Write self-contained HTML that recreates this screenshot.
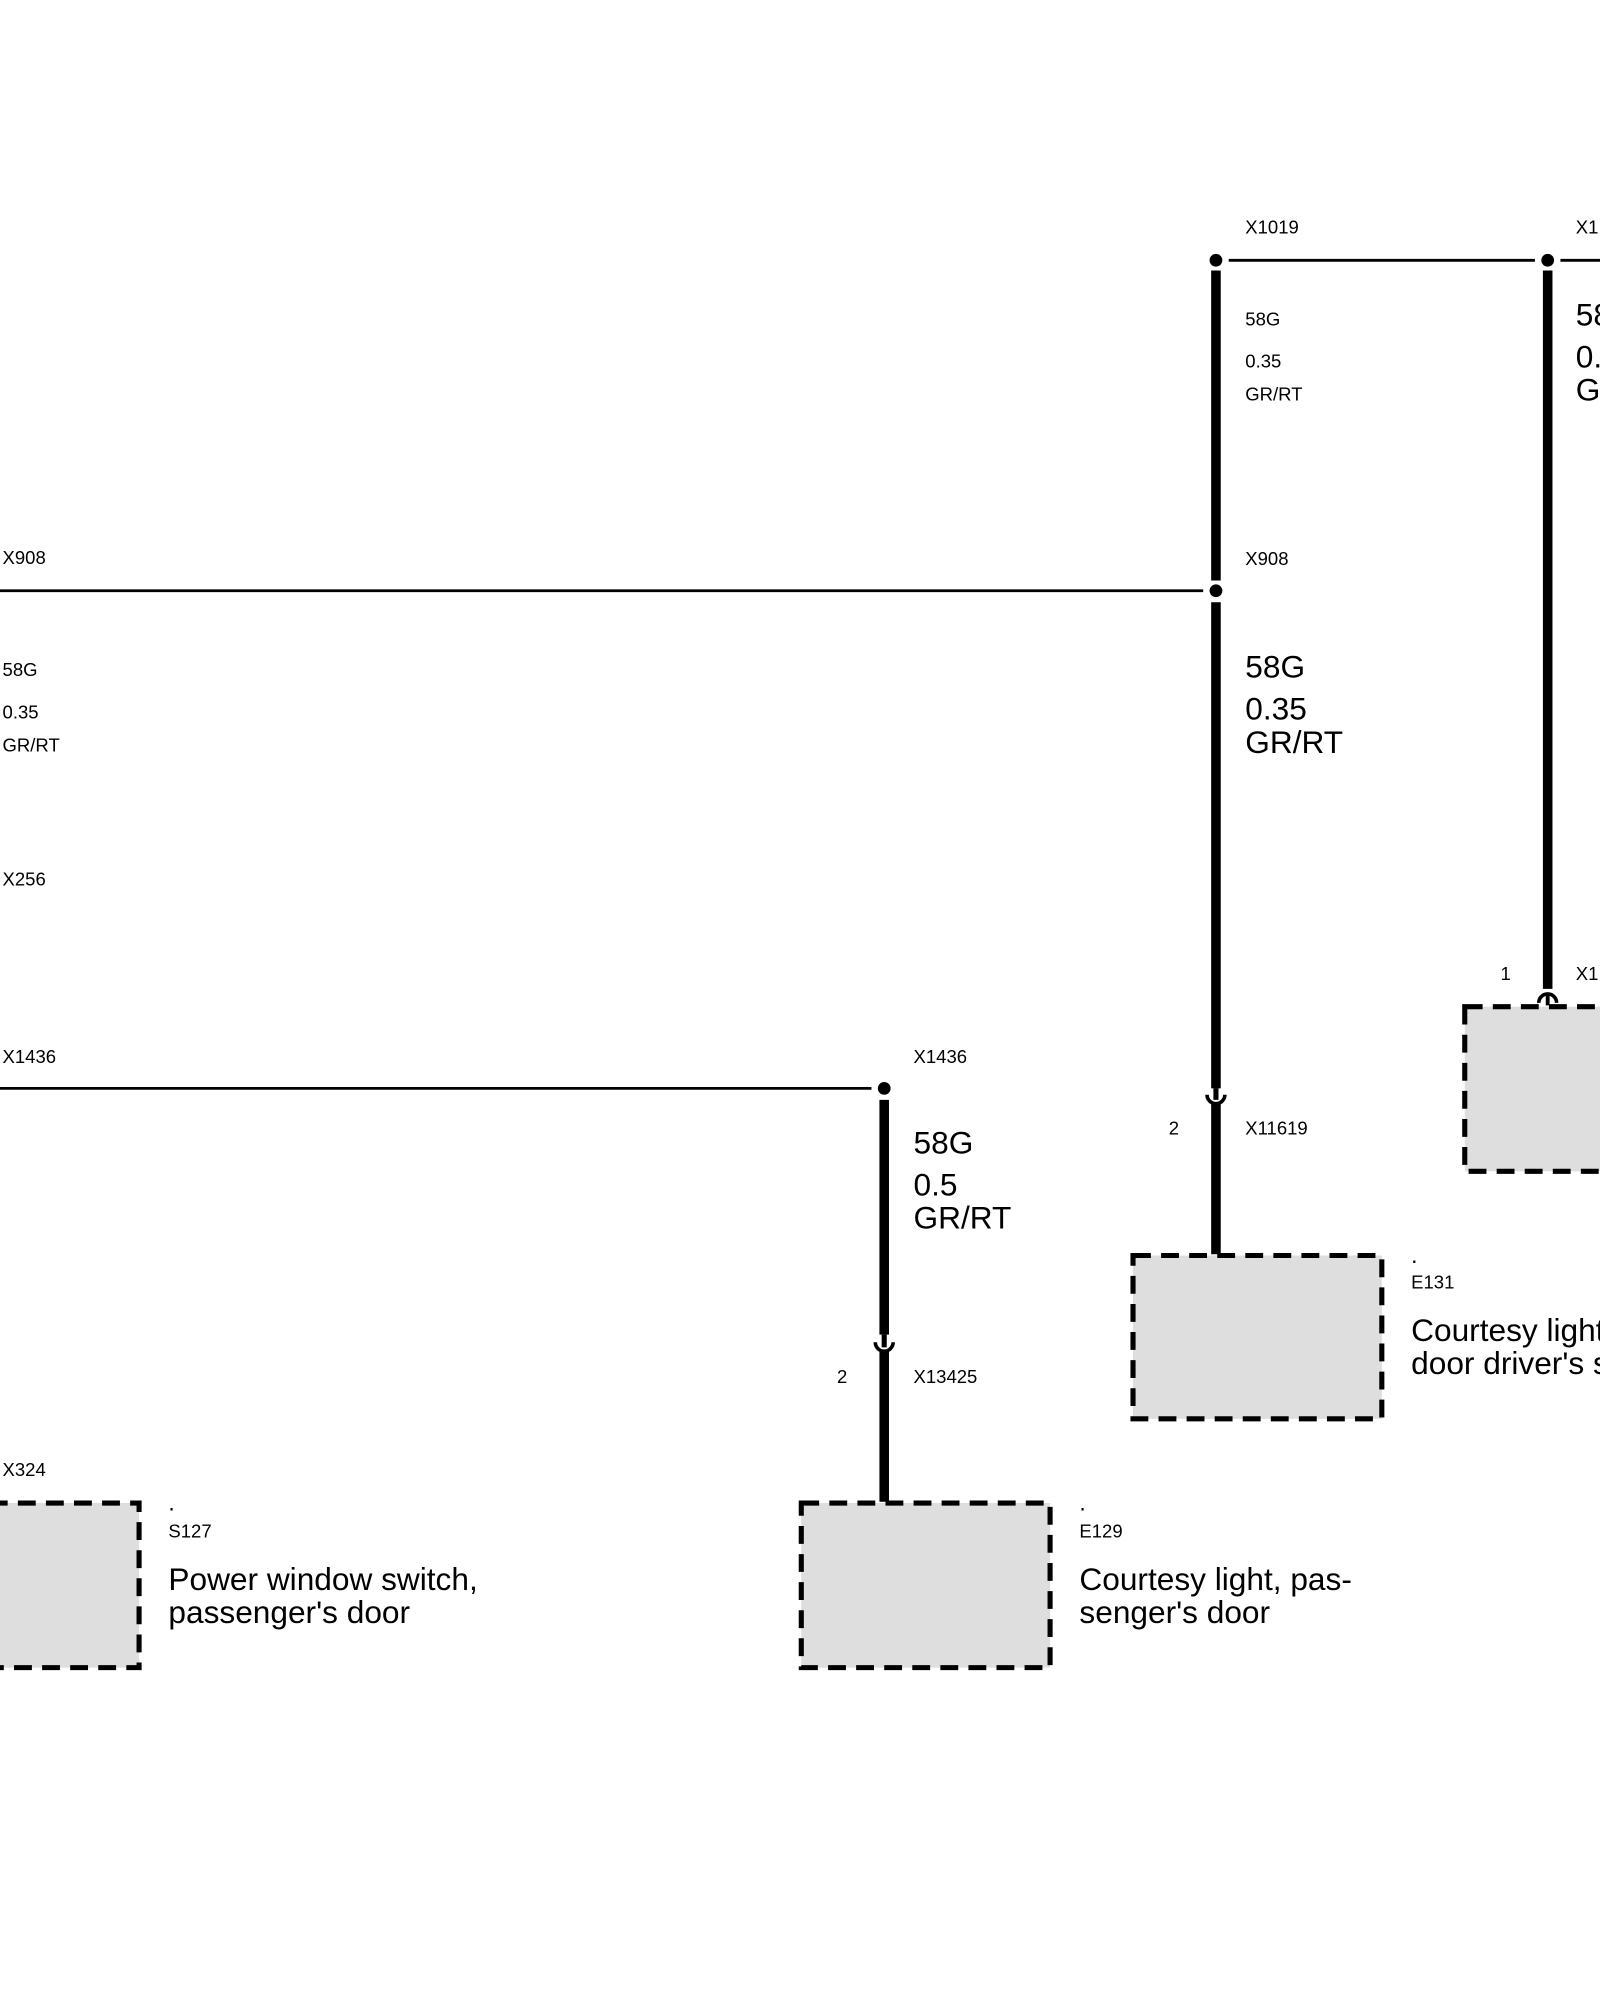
<!DOCTYPE html>
<html><head><meta charset="utf-8"><style>html,body{margin:0;padding:0;background:#fff}svg{display:block}</style></head><body>
<svg width="1600" height="2000" viewBox="0 0 1254 1567.5" xmlns="http://www.w3.org/2000/svg" font-family="Liberation Sans, sans-serif">
<rect width="1254" height="1567.5" fill="#fff"/>
<g stroke="#000" fill="none">
<line x1="963" y1="204" x2="1203" y2="204" stroke-width="2.2"/>
<line x1="1223" y1="204" x2="1254" y2="204" stroke-width="2.2"/>
<line x1="0" y1="463" x2="943" y2="463" stroke-width="2.2"/>
<line x1="0" y1="853" x2="683" y2="853" stroke-width="2.2"/>
<line x1="953" y1="212" x2="953" y2="455" stroke-width="7.5"/>
<line x1="953" y1="472" x2="953" y2="853" stroke-width="7.5"/>
<line x1="953" y1="853" x2="953" y2="862" stroke-width="4"/>
<path d="M946 858 A7 7 0 0 0 960 858" stroke-width="2.8"/>
<line x1="953" y1="865" x2="953" y2="983" stroke-width="7.5"/>
<line x1="1213" y1="212" x2="1213" y2="775" stroke-width="7.5"/>
<path d="M1206 786 A7 7 0 0 1 1220 786" stroke-width="2.8"/>
<line x1="1213" y1="779" x2="1213" y2="788" stroke-width="3"/>
<line x1="693" y1="862" x2="693" y2="1046" stroke-width="7.5"/>
<line x1="693" y1="1046" x2="693" y2="1056" stroke-width="4"/>
<path d="M686 1052 A7 7 0 0 0 700 1052" stroke-width="2.8"/>
<line x1="693" y1="1059" x2="693" y2="1177" stroke-width="7.5"/>
</g>
<g fill="#000">
<circle cx="953" cy="204" r="5"/><circle cx="1213" cy="204" r="5"/>
<circle cx="953" cy="463" r="5"/><circle cx="693" cy="853" r="5"/>
</g>
<g fill="#dedede" stroke="#000" stroke-width="4" stroke-dasharray="14,8">
<rect x="1148" y="789" width="120" height="129"/>
<rect x="888" y="984" width="195" height="128"/>
<rect x="628" y="1178" width="195" height="129"/>
<rect x="-30" y="1178" width="139" height="129"/>
</g>
<g font-size="14.5" fill="#000">
<text x="976" y="183">X1019</text><text x="1235" y="183">X1</text>
<text x="976" y="255">58G</text><text x="976" y="288">0.35</text><text x="976" y="314">GR/RT</text>
<text x="976" y="443">X908</text><text x="2" y="442">X908</text>
<text x="2" y="530">58G</text><text x="2" y="563">0.35</text><text x="2" y="589">GR/RT</text>
<text x="2" y="694">X256</text><text x="2" y="833">X1436</text>
<text x="716" y="833">X1436</text>
<text x="1176" y="768">1</text><text x="1235" y="768">X1</text>
<text x="916" y="889">2</text><text x="976" y="889">X11619</text>
<text x="656" y="1084">2</text><text x="716" y="1084">X13425</text>
<text x="2" y="1157">X324</text>
<text x="1106" y="990" font-size="18">.</text><text x="1106" y="1010">E131</text>
<text x="846" y="1184" font-size="18">.</text><text x="846" y="1205">E129</text>
<text x="132" y="1184" font-size="18">.</text><text x="132" y="1205">S127</text>
</g>
<g font-size="24.8" fill="#000">
<text x="1235" y="255">58</text><text x="1235" y="288">0.</text><text x="1235" y="314">G</text>
<text x="976" y="531">58G</text><text x="976" y="564">0.35</text><text x="976" y="590">GR/RT</text>
<text x="716" y="904">58G</text><text x="716" y="937">0.5</text><text x="716" y="963">GR/RT</text>
<text x="1106" y="1051">Courtesy light</text><text x="1106" y="1077">door driver's s</text>
<text x="846" y="1246">Courtesy light, pas-</text><text x="846" y="1272">senger's door</text>
<text x="132" y="1246">Power window switch,</text><text x="132" y="1272">passenger's door</text>
</g>
</svg>
</body></html>
